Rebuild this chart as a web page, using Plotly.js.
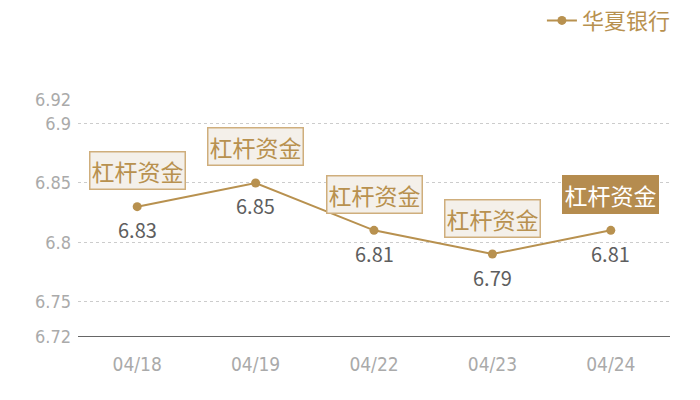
<!DOCTYPE html>
<html>
<head>
<meta charset="utf-8">
<script src="https://cdn.plot.ly/plotly-3.0.1.min.js"></script>
<style>
  html, body { margin: 0; padding: 0; background: #fff; }
  #chart { width: 700px; height: 400px; }
</style>
</head>
<body>
<div id="chart"></div>
<script>
// 图表数据
const dates = ['04/18', '04/19', '04/22', '04/23', '04/24'];
const rates = [6.83, 6.85, 6.81, 6.79, 6.81];
const seriesName = '华夏银行';
const tagText = '杠杆资金';
const yTicks = [6.72, 6.75, 6.8, 6.85, 6.9, 6.92];

const gold = '#b8914f';
const cjk = '"Noto Sans CJK SC", "Noto Sans", sans-serif';
const narrow = '"Liberation Sans Narrow", "DejaVu Sans Condensed", sans-serif';

const trace = {
    type: 'scatter',
    mode: 'lines+markers',
    name: seriesName,
    x: dates,
    y: rates,
    line: { color: gold, width: 2 },
    marker: { color: gold, size: 9 },
    cliponaxis: false
};

// 标签框，最后一个高亮
const tagNotes = dates.map((d, i) => {
    const last = i === dates.length - 1;
    return {
        x: d,
        y: rates[i],
        xref: 'x',
        yref: 'y',
        text: tagText,
        showarrow: false,
        yshift: 36,
        font: { family: cjk, size: 23, color: last ? '#ffffff' : gold },
        bgcolor: last ? '#b58c4f' : '#f4f0ea',
        bordercolor: last ? '#b58c4f' : '#cfae7c',
        borderwidth: 1.5,
        borderpad: 1
    };
});

// 数值标签（点下方）
const valueNotes = dates.map((d, i) => ({
    x: d,
    y: rates[i],
    xref: 'x',
    yref: 'y',
    text: rates[i].toFixed(2),
    showarrow: false,
    yshift: -23,
    font: { family: cjk, size: 20, color: '#5e5e5e' }
}));

const layout = {
    width: 700,
    height: 400,
    margin: { l: 78, r: 30, t: 100, b: 63, autoexpand: false },
    paper_bgcolor: '#ffffff',
    plot_bgcolor: '#ffffff',
    showlegend: true,
    legend: {
        x: 1.01,
        xanchor: 'right',
        y: 1.335,
        yanchor: 'middle',
        orientation: 'h',
        font: { family: cjk, size: 22, color: gold },
        bgcolor: 'rgba(0,0,0,0)'
    },
    xaxis: {
        type: 'category',
        range: [-0.5, dates.length - 0.5],
        showgrid: false,
        zeroline: false,
        showline: false,
        ticks: '',
        tickfont: { family: narrow, size: 19, color: '#aaaaaa' },
        ticklabelstandoff: 14
    },
    yaxis: {
        range: [6.72, 6.92],
        tickvals: yTicks,
        ticktext: yTicks.map(v => String(v)),
        showgrid: true,
        gridcolor: '#cccccc',
        griddash: 'dot',
        gridwidth: 1,
        zeroline: false,
        showline: false,
        ticks: '',
        tickfont: { family: narrow, size: 18, color: '#aaaaaa' },
        ticklabelstandoff: 6
    },
    shapes: [{
        type: 'line',
        xref: 'paper', yref: 'y',
        x0: 0, x1: 1, y0: 6.72, y1: 6.72,
        line: { color: '#333333', width: 1.5 }
    }],
    annotations: tagNotes.concat(valueNotes)
};

Plotly.newPlot('chart', [trace], layout, { displayModeBar: false, staticPlot: true });
</script>
</body>
</html>
